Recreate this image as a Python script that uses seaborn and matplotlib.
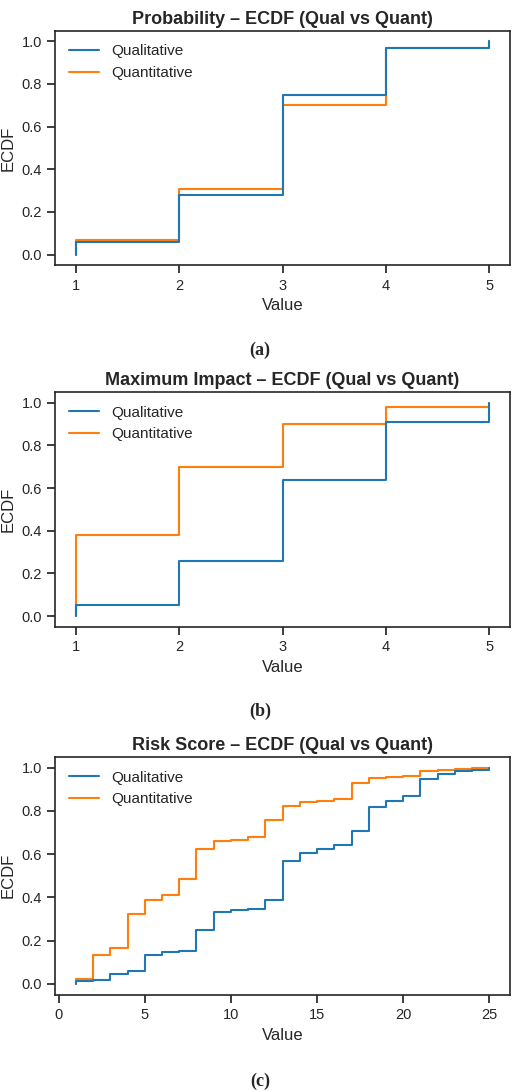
import numpy as np
import pandas as pd
import matplotlib
matplotlib.use("Agg")
import matplotlib.pyplot as plt
import seaborn as sns

sns.set_theme(style="ticks")
plt.rcParams['font.family'] = ['Liberation Sans', 'DejaVu Sans']

x5 = [1, 2, 3, 4, 5]
prob_qual_cum = [0.06, 0.28, 0.75, 0.97, 1.0]
prob_quant_cum = [0.07, 0.31, 0.70, 0.97, 1.0]
imp_qual_cum = [0.05, 0.26, 0.64, 0.91, 1.0]
imp_quant_cum = [0.38, 0.70, 0.90, 0.98, 1.0]
x25 = list(range(1, 26))
risk_qual_cum = [0.013, 0.02, 0.045, 0.06, 0.133, 0.146, 0.153, 0.25, 0.334, 0.343,
                 0.346, 0.386, 0.569, 0.607, 0.626, 0.642, 0.709, 0.82, 0.845, 0.867,
                 0.945, 0.97, 0.983, 0.99, 1.0]
risk_quant_cum = [0.022, 0.135, 0.166, 0.324, 0.389, 0.409, 0.487, 0.624, 0.66, 0.666,
                  0.679, 0.757, 0.824, 0.84, 0.844, 0.853, 0.927, 0.952, 0.957, 0.96,
                  0.985, 0.99, 0.992, 0.998, 1.0]

titles = ["Probability – ECDF (Qual vs Quant)",
          "Maximum Impact – ECDF (Qual vs Quant)",
          "Risk Score – ECDF (Qual vs Quant)"]
captions = ["(a)", "(b)", "(c)"]
panels = [(x5, prob_qual_cum, prob_quant_cum),
          (x5, imp_qual_cum, imp_quant_cum),
          (x25, risk_qual_cum, risk_quant_cum)]

def frame(xs, cum, label):
    w = np.diff(np.concatenate([[0.0], cum]))
    return pd.DataFrame({"Value": xs, "w": w, "Type": label})

fig = plt.figure(figsize=(5.2, 10.92), dpi=100)
axes_rects = [(0.106, 0.757, 0.875, 0.215), (0.106, 0.426, 0.875, 0.215),
              (0.106, 0.089, 0.875, 0.218)]
cap_y = [0.675, 0.344, 0.006]
for i, ((xs, q, qt), rect) in enumerate(zip(panels, axes_rects)):
    ax = fig.add_axes(rect)
    df = pd.concat([frame(xs, q, "Qualitative"), frame(xs, qt, "Quantitative")])
    sns.ecdfplot(data=df, x="Value", weights="w", hue="Type", ax=ax,
                 palette=["#1f77b4", "#ff7f0e"], linewidth=1.5)
    leg = ax.get_legend()
    handles = leg.legend_handles
    leg.remove()
    ax.legend(handles, ["Qualitative", "Quantitative"], loc="upper left", frameon=False, fontsize=11)
    ax.set_title(titles[i], fontsize=13, fontweight="bold", pad=5)
    ax.set_xlabel("Value", fontsize=12)
    ax.set_ylabel("ECDF", fontsize=12)
    ax.set_yticks([0, 0.2, 0.4, 0.6, 0.8, 1.0])
    ax.set_ylim(-0.05, 1.05)
    ax.tick_params(labelsize=10.5)
    for s in ax.spines.values():
        s.set_visible(True)
        s.set_linewidth(1.2)
    if i < 2:
        ax.set_xticks([1, 2, 3, 4, 5])
        ax.set_xlim(0.8, 5.2)
    else:
        ax.set_xticks([0, 5, 10, 15, 20, 25])
        ax.set_xlim(-0.2, 26.2)
    fig.text(0.5, cap_y[i], captions[i], ha="center", fontsize=13, fontweight="bold",
             family="Liberation Serif")

fig.savefig("out.png", dpi=100)
